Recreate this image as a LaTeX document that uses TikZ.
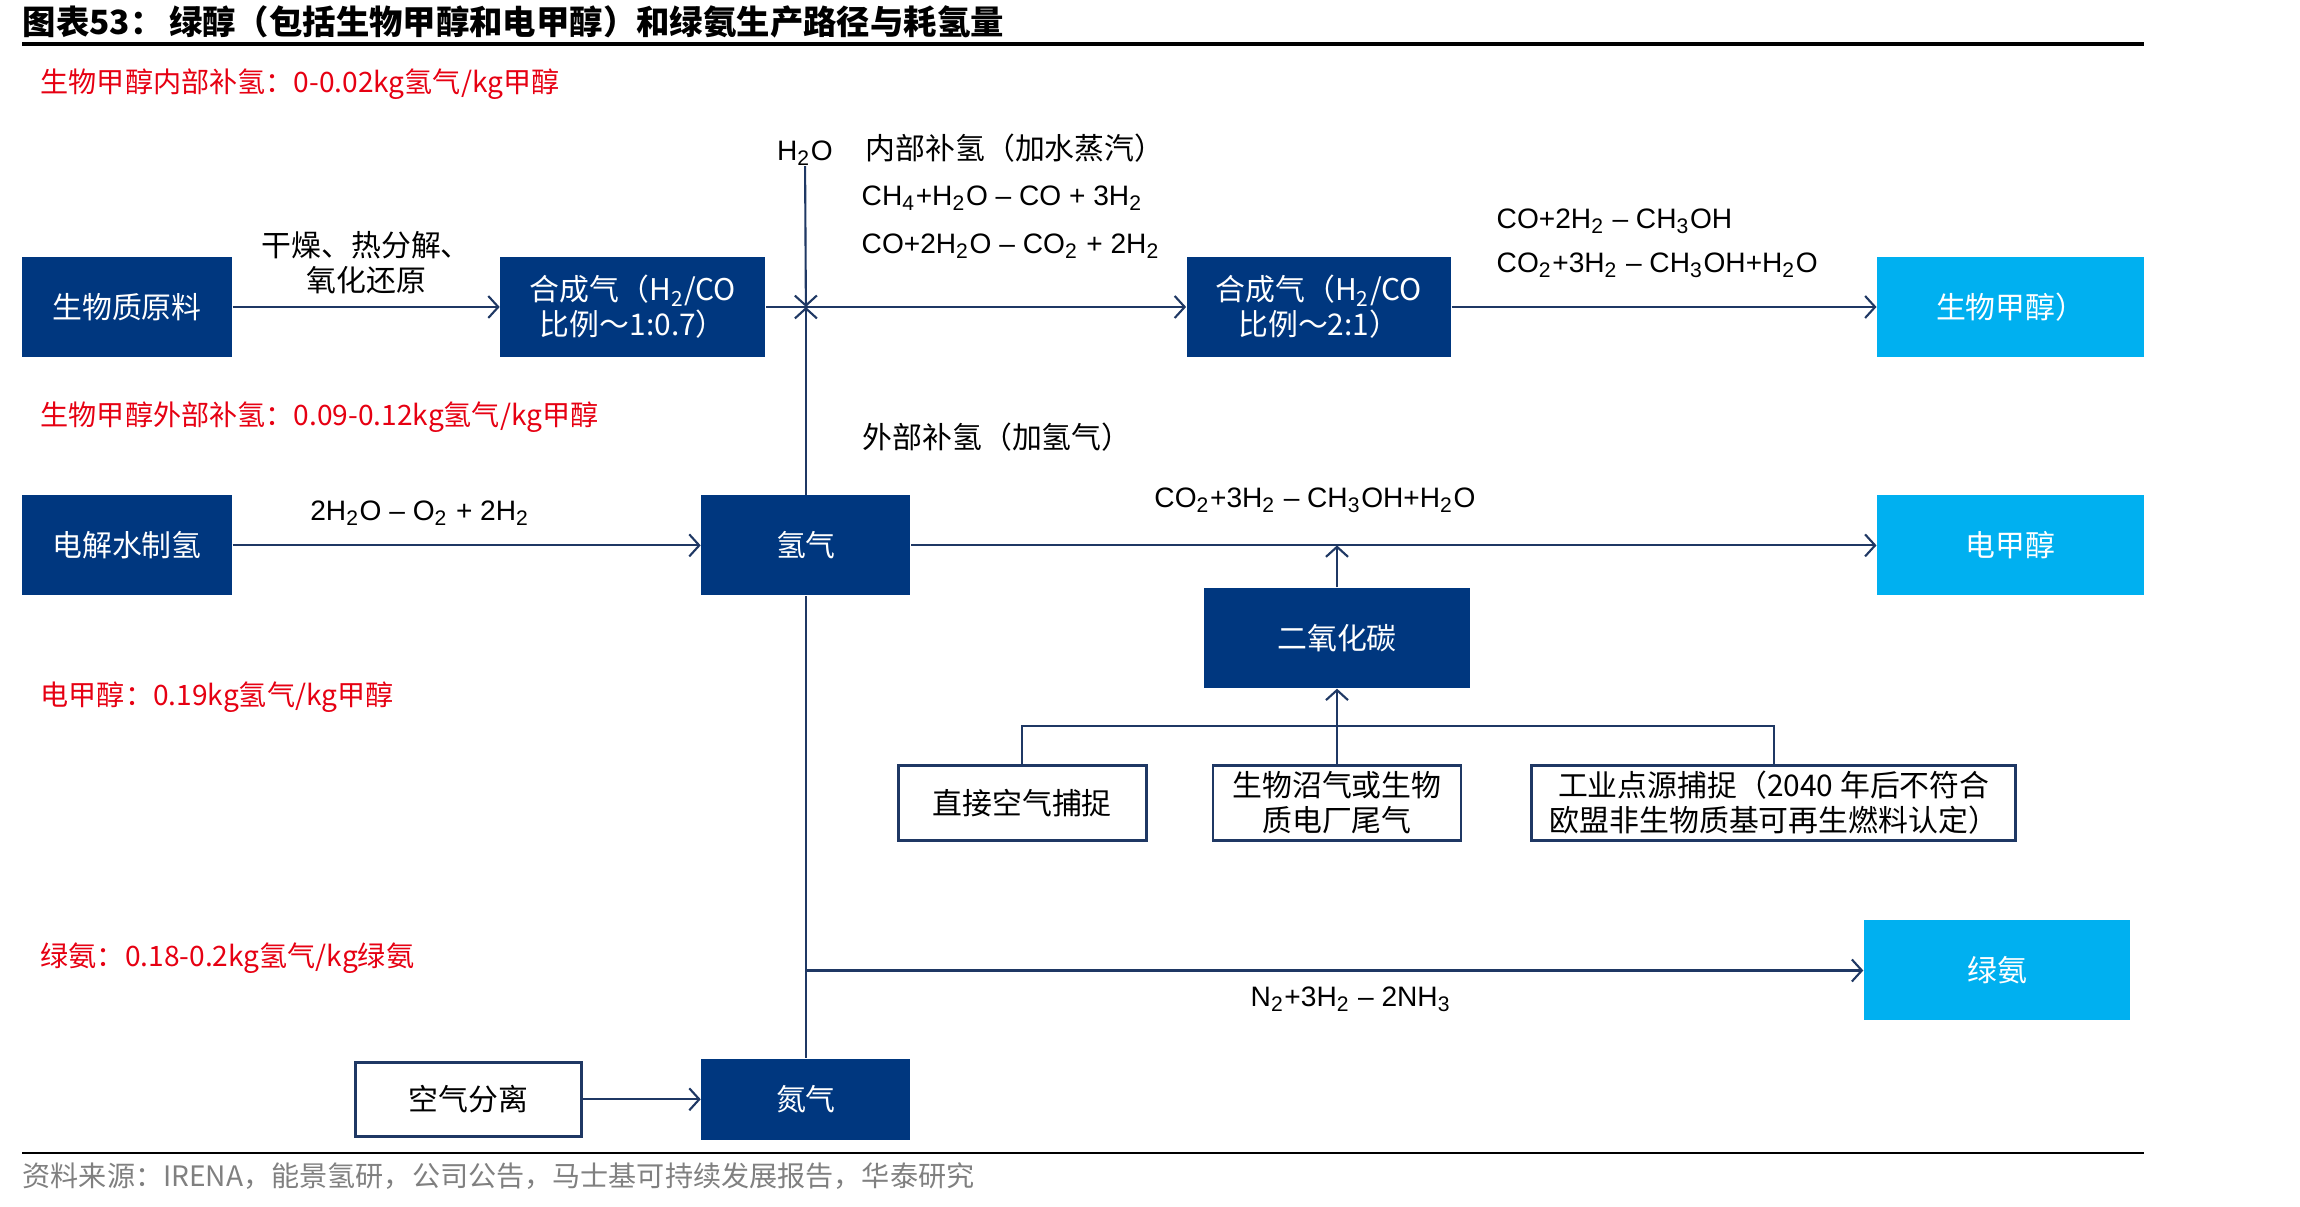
\documentclass[tikz,border=0pt]{standalone}
\usepackage{fontspec}
\setmainfont{Noto Sans CJK SC}
\newfontfamily\latfont{Liberation Sans}
\usetikzlibrary{arrows.meta, positioning}

\definecolor{navy}{HTML}{00377F}
\definecolor{sky}{HTML}{00B0F0}
\definecolor{linecol}{HTML}{1F3864}
\definecolor{notered}{HTML}{E60012}

\newcommand{\subs}[1]{\textsubscript{#1}}

\begin{document}
\begin{tikzpicture}[
    font=\fontsize{8.5}{10}\selectfont,
    darkbox/.style={fill=navy, text=white, align=center, minimum height=1cm, inner sep=0pt},
    lightbox/.style={fill=sky, text=white, align=center, minimum height=1cm, minimum width=2.67cm, inner sep=0pt},
    linebox/.style={draw=linecol, line width=0.8pt, fill=white, align=center, minimum height=0.75cm, inner sep=0pt},
    note/.style={text=notered, anchor=west, inner sep=0pt, font=\fontsize{8}{10}\selectfont},
    tag/.style={inner sep=0pt, align=center},
    formula/.style={inner sep=0pt, font=\latfont\fontsize{8}{10}\selectfont},
    arrow/.style={-{Straight Barb[length=1mm,width=2.2mm]}, draw=linecol, line width=0.6pt},
    link/.style={draw=linecol, line width=0.6pt}
]
\useasboundingbox (0,0) rectangle (23,12.07);

% --- heading and rules ---
\node[anchor=west, inner sep=0pt, font=\bfseries\fontsize{9.5}{11}\selectfont] (title) at (0.22,11.85) {图表53：\,绿醇（包括生物甲醇和电甲醇）和绿氨生产路径与耗氢量};
\draw[line width=1pt] (0.22,11.63) -- (21.44,11.63);
\draw[line width=0.8pt] (0.22,0.54) -- (21.44,0.54);
\node[anchor=west, inner sep=0pt, text=gray, font=\fontsize{8}{10}\selectfont] (source) at (0.22,0.31) {资料来源：IRENA，能景氢研，公司公告，马士基可持续发展报告，华泰研究};

% --- hydrogen demand notes ---
\node[note] (noteA) at (0.40,11.23) {生物甲醇内部补氢：0-0.02kg氢气/kg甲醇};
\node[note] (noteB) at (0.40,7.90) {生物甲醇外部补氢：0.09-0.12kg氢气/kg甲醇};
\node[note] (noteC) at (0.40,5.10) {电甲醇：0.19kg氢气/kg甲醇};
\node[note] (noteD) at (0.40,2.49) {绿氨：0.18-0.2kg氢气/kg绿氨};

% --- bio-methanol row ---
\node[darkbox, minimum width=2.1cm] (bio) at (1.27,9.00) {生物质原料};
\node[darkbox, minimum width=2.65cm, right=2.67cm of bio] (syngasA) {合成气（H\subs{2}/CO\\比例～1:0.7）};
\node[darkbox, minimum width=2.64cm, right=4.2cm of syngasA] (syngasB) {合成气（H\subs{2}/CO\\比例～2:1）};
\node[lightbox, right=4.25cm of syngasB] (biomeoh) {生物甲醇）};

% --- e-methanol row ---
\node[darkbox, minimum width=2.1cm, below=1.37cm of bio] (elec) {电解水制氢};
\node[darkbox, minimum width=2.09cm, right=4.68cm of elec] (hydrogen) {氢气};
\node[lightbox, below=1.37cm of biomeoh] (emeoh) {电甲醇};

% --- CO2 and its sources ---
\node[darkbox, minimum width=2.66cm] (co2) at (13.37,5.69) {二氧化碳};
\node[linebox, minimum width=2.48cm, below=0.75cm of co2] (biogas) {生物沼气或生物\\质电厂尾气};
\node[linebox, minimum width=2.48cm, left=0.64cm of biogas] (dac) {直接空气捕捉};
\node[linebox, minimum width=4.84cm, right=0.68cm of biogas] (point) {工业点源捕捉（2040 年后不符合\\欧盟非生物质基可再生燃料认定）};

% --- green ammonia ---
\node[lightbox, minimum width=2.66cm] (nh3) at (19.97,2.365) {绿氨};
\node[darkbox, minimum width=2.09cm, minimum height=0.81cm, below=4.62cm of hydrogen] (nitrogen) {氮气};
\node[linebox, minimum width=2.26cm, minimum height=0.74cm, left=1.18cm of nitrogen] (asu) {空气分离};

% --- reaction labels ---
\node[formula] (water) at (8.05,10.54) {H\subs{2}O};
\node[tag, anchor=west] (steam) at (8.65,10.59) {内部补氢（加水蒸汽）};
\node[formula, anchor=west] (reformA) at (8.61,10.09) {CH\subs{4}+H\subs{2}O – CO + 3H\subs{2}};
\node[formula, anchor=west] (reformB) at (8.61,9.61) {CO+2H\subs{2}O – CO\subs{2} + 2H\subs{2}};
\node[formula, anchor=west] (synthA) at (14.96,9.86) {CO+2H\subs{2} – CH\subs{3}OH};
\node[formula, anchor=west] (synthB) at (14.96,9.42) {CO\subs{2}+3H\subs{2} – CH\subs{3}OH+H\subs{2}O};
\node[tag, anchor=west] (extH) at (8.62,7.70) {外部补氢（加氢气）};
\node[formula] (electro) at (4.20,6.94) {2H\subs{2}O – O\subs{2} + 2H\subs{2}};
\node[formula] (hydro) at (13.15,7.07) {CO\subs{2}+3H\subs{2} – CH\subs{3}OH+H\subs{2}O};
\node[formula] (haber) at (13.51,2.08) {N\subs{2}+3H\subs{2} – 2NH\subs{3}};

% --- junction points ---
\coordinate (mix) at (hydrogen |- syngasA);
\coordinate (join) at (co2 |- hydrogen);
\coordinate (tap) at (hydrogen |- nh3);

% --- arrows ---
\draw[arrow] (bio) -- node[tag, above=0.12cm] (dry) {干燥、热分解、\\氧化还原} (syngasA);
\draw[arrow] (syngasA) -- (syngasB);
\draw[arrow] (water) -- (mix);
\draw[arrow] (hydrogen) -- (mix);
\draw[arrow] (syngasB) -- (biomeoh);
\draw[arrow] (elec) -- (hydrogen);
\draw[arrow] (hydrogen) -- (emeoh);
\draw[arrow] (co2) -- (join);
\draw[arrow] (biogas) -- (co2);
\draw[link] (dac.north) -- ++(0,0.38) -| (point.north);
\draw[link] (hydrogen) -- (nitrogen);
\draw[arrow] (tap) -- (nh3);
\draw[arrow] (asu) -- (nitrogen);

\end{tikzpicture}
\end{document}
